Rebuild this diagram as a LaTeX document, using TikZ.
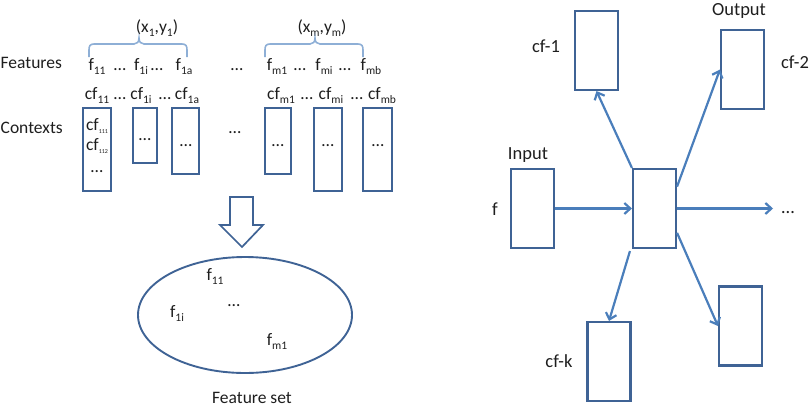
\documentclass[tikz,border=0pt]{standalone}
\usepackage{fontspec}
\setmainfont{Carlito}
\usetikzlibrary{arrows.meta,calc}
\definecolor{boxc}{HTML}{3F6395}
\definecolor{arrc}{HTML}{4A7EBB}
\definecolor{bracec}{HTML}{8EAFD6}
\definecolor{txt}{HTML}{1E1E1E}
\newcommand\sbs[1]{\raisebox{-0.28em}{\fontsize{11.5}{11.5}\selectfont #1}}
\newcommand\tsb[1]{\raisebox{-0.2em}{\fontsize{6}{6}\selectfont #1}}
\begin{document}
\begin{tikzpicture}[x=1pt,y=-1pt,
  lbl/.style={inner sep=0pt,anchor=base,text=txt,font=\fontsize{17.5}{20}\selectfont},
  rlbl/.style={inner sep=0pt,text=txt,font=\fontsize{18.5}{22}\selectfont},
  ctxbox/.style={draw=boxc,line width=2pt,inner sep=0pt},
  nbox/.style={draw=boxc,line width=2.1pt,minimum width=43pt,minimum height=79pt,inner sep=0pt},
  arr/.style={draw=arrc,line width=2.2pt,-{Straight Barb[length=6pt,width=11pt]}},
  brc/.style={draw=bracec,line width=1.6pt}]
\useasboundingbox (0,0) rectangle (811,410);

% ---------- left panel ----------
\node[lbl,anchor=base west] (featlbl) at (0.5,68) {Features};
\node[lbl,anchor=base west] (ctxlbl) at (0.5,133) {Contexts};

\node[lbl] (xy1) at (157,32) {(x\sbs{1},y\sbs{1})};
\node[lbl] (xym) at (322,32) {(x\sbs{m},y\sbs{m})};

\draw[brc] (89,57) -- (89,50) .. controls (89,46) and (90,44) .. (94,44) -- (134,44)
  .. controls (137,44) and (139,42) .. (139,38) .. controls (139,42) and (141,44) .. (144,44)
  -- (182,44) .. controls (186,44) and (187,46) .. (187,50) -- (187,57);
\draw[brc] (265,57) -- (265,50) .. controls (265,46) and (266,44) .. (270,44) -- (310,44)
  .. controls (313,44) and (315,42) .. (315,38) .. controls (315,42) and (317,44) .. (320,44)
  -- (358,44) .. controls (362,44) and (363,46) .. (363,50) -- (363,57);

% features row
\node[lbl] (f11) at (97,70) {f\sbs{11}};
\node[lbl] (d1) at (120,70) {…};
\node[lbl] (f1i) at (141,70) {f\sbs{1i}};
\node[lbl] (d2) at (157,70) {…};
\node[lbl] (f1a) at (184,70) {f\sbs{1a}};
\node[lbl] (d3) at (237,70) {…};
\node[lbl] (fm1) at (277,70) {f\sbs{m1}};
\node[lbl] (d4) at (300,70) {…};
\node[lbl] (fmi) at (324,70) {f\sbs{mi}};
\node[lbl] (d5) at (345,70) {…};
\node[lbl] (fmb) at (371,70) {f\sbs{mb}};

% contexts row
\node[lbl] (cf11) at (97,99) {cf\sbs{11}};
\node[lbl] (e1) at (120,99) {…};
\node[lbl] (cf1i) at (141,99) {cf\sbs{1i}};
\node[lbl] (e2) at (165,99) {…};
\node[lbl] (cf1a) at (187,99) {cf\sbs{1a}};
\node[lbl] (cfm1) at (281,99) {cf\sbs{m1}};
\node[lbl] (e3) at (307,99) {…};
\node[lbl] (cfmi) at (331,99) {cf\sbs{mi}};
\node[lbl] (e4) at (357,99) {…};
\node[lbl] (cfmb) at (382,99) {cf\sbs{mb}};

% context boxes
\node[ctxbox,minimum width=28pt,minimum height=83pt] (b1) at (97,149.5) {};
\node[ctxbox,minimum width=24pt,minimum height=55pt] (b2) at (145,135.5) {};
\node[ctxbox,minimum width=27pt,minimum height=66pt] (b3) at (185.5,141) {};
\node[ctxbox,minimum width=26pt,minimum height=66pt] (b4) at (278,141) {};
\node[ctxbox,minimum width=28pt,minimum height=83pt] (b5) at (328,149.5) {};
\node[ctxbox,minimum width=29pt,minimum height=83pt] (b6) at (377.5,149.5) {};

\node[lbl] (cf111) at (97,130) {cf\tsb{111}};
\node[lbl] (cf112) at (97,150) {cf\tsb{112}};
\node[lbl] (g1) at (97,172) {…};
\node[lbl] (g2) at (145,140) {…};
\node[lbl] (g3) at (186,146) {…};
\node[lbl] (g4) at (235,133) {…};
\node[lbl] (g5) at (278,146) {…};
\node[lbl] (g6) at (328,146) {…};
\node[lbl] (g7) at (378,146) {…};

% block arrow
\draw[draw=boxc,line width=1.7pt,fill=white,line join=miter]
  (230,197) -- (253,197) -- (253,225) -- (263,225) -- (242,247) -- (220,225) -- (230,225) -- cycle;

% feature set ellipse
\draw[draw=boxc,line width=1.9pt] (245,315) ellipse [x radius=107, y radius=58];
\node[lbl] (s11) at (215,280) {f\sbs{11}};
\node[lbl] (s1i) at (177,317) {f\sbs{1i}};
\node[lbl] (sdots) at (234,306) {…};
\node[lbl] (sm1) at (277,345) {f\sbs{m1}};
\node[lbl] (fsetlbl) at (252,403) {Feature set};

% ---------- right panel ----------
\node[nbox] (cf1) at (596.5,50.5) {};
\node[nbox] (cf2) at (742.5,69.5) {};
\node[nbox] (inp) at (532.5,208.5) {};
\node[nbox] (ctr) at (654.5,208.5) {};
\node[nbox] (br) at (740.5,326) {};
\node[nbox] (cfk) at (609,361.5) {};

\node[rlbl] (cf1lbl) at (546,46) {cf-1};
\node[rlbl] (cf2lbl) at (795,62) {cf-2};
\node[rlbl,anchor=base] (outlbl) at (739,15) {Output};
\node[rlbl] (inlbl) at (528,155) {Input};
\node[rlbl] (flbl) at (495,209) {f};
\node[rlbl,anchor=base] (more) at (788,213) {…};
\node[rlbl] (cfklbl) at (559,361) {cf-k};
\coordinate (moreend) at (773,208.5);

\draw[arr] (inp.east) -- (ctr.west);
\draw[arr] (ctr.north west) -- (cf1.south);
\draw[arr] ($(ctr.north east)!0.23!(ctr.south east)$) -- (cf2.west);
\draw[arr] (ctr.east) -- (moreend);
\draw[arr] ($(ctr.north east)!0.8!(ctr.south east)$) -- (br.west);
\draw[arr] ($(ctr.south west)+(-2,2)$) -- (cfk.north);
\end{tikzpicture}
\end{document}
